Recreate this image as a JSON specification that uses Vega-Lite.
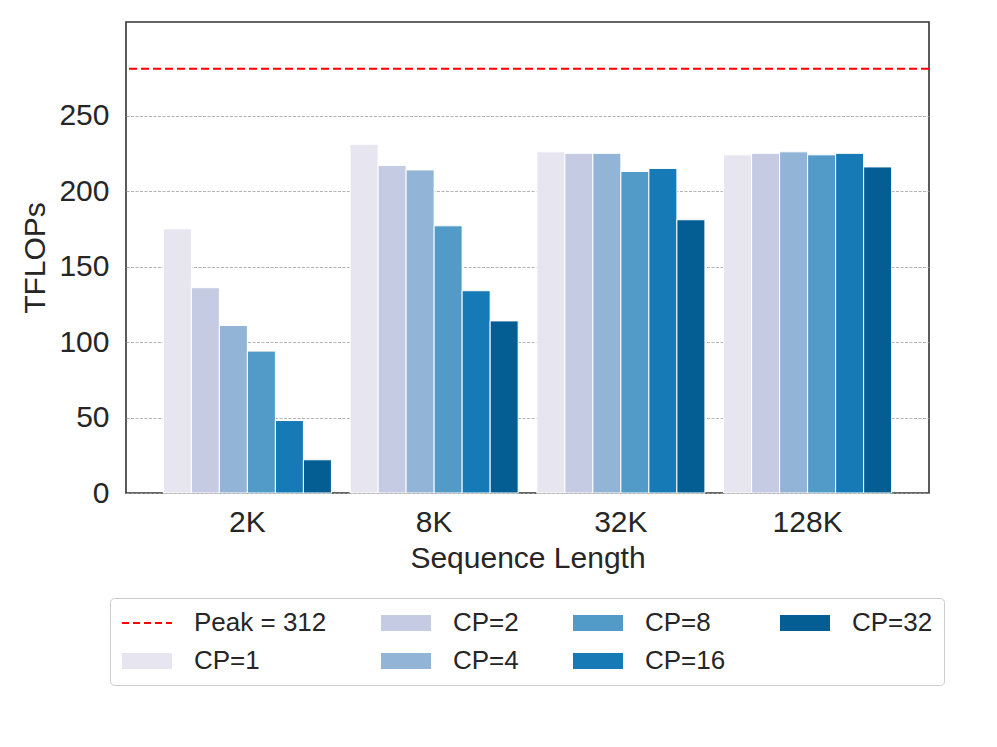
{
  "$schema": "https://vega.github.io/schema/vega-lite/v6.json",
  "width": 803,
  "height": 471,
  "autosize": {"type": "none"},
  "padding": {"left": 126, "top": 22, "right": 68, "bottom": 254},
  "background": "white",
  "config": {
    "font": "Liberation Sans",
    "view": {"stroke": "#333333", "strokeWidth": 1.6},
    "axis": {"labelColor": "#262626", "titleColor": "#262626", "labelFont": "Liberation Sans", "titleFont": "Liberation Sans"},
    "legend": {
      "orient": "none",
      "legendX": -16,
      "legendY": 576,
      "columns": 4,
      "columnPadding": 50,
      "rowPadding": 11,
      "padding": 11,
      "strokeColor": "#cccccc",
      "fillColor": "white",
      "cornerRadius": 4,
      "labelFontSize": 26,
      "labelColor": "#262626",
      "labelFont": "Liberation Sans",
      "labelOffset": 45,
      "symbolSize": 676,
      "symbolStrokeWidth": 2,
      "symbolOpacity": 1,
      "symbolType": "M-1,-0.615H2.846V0.615H-1Z"
    }
  },
  "datasets": {
    "bars": [
      {"seq": "2K", "cp": "CP=1", "tflops": 175},
      {"seq": "2K", "cp": "CP=2", "tflops": 136},
      {"seq": "2K", "cp": "CP=4", "tflops": 111},
      {"seq": "2K", "cp": "CP=8", "tflops": 94},
      {"seq": "2K", "cp": "CP=16", "tflops": 48},
      {"seq": "2K", "cp": "CP=32", "tflops": 22},
      {"seq": "8K", "cp": "CP=1", "tflops": 231},
      {"seq": "8K", "cp": "CP=2", "tflops": 217},
      {"seq": "8K", "cp": "CP=4", "tflops": 214},
      {"seq": "8K", "cp": "CP=8", "tflops": 177},
      {"seq": "8K", "cp": "CP=16", "tflops": 134},
      {"seq": "8K", "cp": "CP=32", "tflops": 114},
      {"seq": "32K", "cp": "CP=1", "tflops": 226},
      {"seq": "32K", "cp": "CP=2", "tflops": 225},
      {"seq": "32K", "cp": "CP=4", "tflops": 225},
      {"seq": "32K", "cp": "CP=8", "tflops": 213},
      {"seq": "32K", "cp": "CP=16", "tflops": 215},
      {"seq": "32K", "cp": "CP=32", "tflops": 181},
      {"seq": "128K", "cp": "CP=1", "tflops": 224},
      {"seq": "128K", "cp": "CP=2", "tflops": 225},
      {"seq": "128K", "cp": "CP=4", "tflops": 226},
      {"seq": "128K", "cp": "CP=8", "tflops": 224},
      {"seq": "128K", "cp": "CP=16", "tflops": 225},
      {"seq": "128K", "cp": "CP=32", "tflops": 216}
    ],
    "peak": [
      {"label": "Peak = 312", "tflops": 281}
    ]
  },
  "encoding": {
    "x": {
      "field": "seq", "type": "nominal",
      "sort": ["2K", "8K", "32K", "128K"],
      "scale": {"paddingInner": 0.1, "paddingOuter": 0.2},
      "axis": {"labelAngle": 0, "labelFontSize": 30, "ticks": false, "tickSize": 0, "domain": false, "labelPadding": 14, "title": "Sequence Length", "titleFontSize": 30, "titleFontWeight": "normal", "titlePadding": 6}
    },
    "xOffset": {
      "field": "cp", "type": "nominal",
      "sort": ["CP=1", "CP=2", "CP=4", "CP=8", "CP=16", "CP=32"],
      "scale": {"paddingInner": 0, "paddingOuter": 0}
    },
    "y": {
      "field": "tflops", "type": "quantitative",
      "scale": {"domain": [0, 312], "nice": false, "zero": true},
      "axis": {"values": [0, 50, 100, 150, 200, 250], "labelFontSize": 30, "ticks": false, "tickSize": 0, "domain": false, "labelPadding": 17, "grid": true, "gridDash": [3, 1.5], "gridColor": "#a0a0a0", "gridWidth": 0.8, "title": "TFLOPs", "titleFontSize": 30, "titleFontWeight": "normal", "titlePadding": 8}
    }
  },
  "layer": [
    {
      "data": {"name": "bars"},
      "mark": {"type": "bar", "stroke": "white", "strokeWidth": 1},
      "encoding": {
        "color": {
          "field": "cp", "type": "nominal",
          "scale": {
            "domain": ["Peak = 312", "CP=1", "CP=2", "CP=4", "CP=8", "CP=16", "CP=32"],
            "range": ["#ffffff", "#e7e5f0", "#c6cbe4", "#92b5d7", "#529bc8", "#157ab5", "#045e94"]
          },
          "legend": {"title": null}
        }
      }
    },
    {
      "data": {"name": "bars"},
      "mark": {"type": "point", "filled": true, "size": 0},
      "encoding": {
        "color": {"field": "cp", "type": "nominal", "legend": {"title": null}},
        "shape": {
          "field": "cp", "type": "nominal",
          "scale": {
            "domain": ["Peak = 312", "CP=1", "CP=2", "CP=4", "CP=8", "CP=16", "CP=32"],
            "range": ["M-1,0H2.846", "M-1,-0.615H2.846V0.615H-1Z", "M-1,-0.615H2.846V0.615H-1Z", "M-1,-0.615H2.846V0.615H-1Z", "M-1,-0.615H2.846V0.615H-1Z", "M-1,-0.615H2.846V0.615H-1Z", "M-1,-0.615H2.846V0.615H-1Z"]
          },
          "legend": {"title": null}
        },
        "stroke": {
          "field": "cp", "type": "nominal",
          "scale": {
            "domain": ["Peak = 312", "CP=1", "CP=2", "CP=4", "CP=8", "CP=16", "CP=32"],
            "range": ["#ff0000", "transparent", "transparent", "transparent", "transparent", "transparent", "transparent"]
          },
          "legend": {"title": null}
        },
        "strokeDash": {
          "field": "cp", "type": "nominal",
          "scale": {
            "domain": ["Peak = 312", "CP=1", "CP=2", "CP=4", "CP=8", "CP=16", "CP=32"],
            "range": [[7, 4], [1, 0], [1, 0], [1, 0], [1, 0], [1, 0], [1, 0]]
          },
          "legend": {"title": null}
        }
      }
    },
    {
      "data": {"name": "peak"},
      "mark": {"type": "rule", "strokeDash": [8, 4], "strokeWidth": 2, "color": "#ff0000"},
      "encoding": {
        "x": null,
        "xOffset": null,
        "y": {"field": "tflops", "type": "quantitative"}
      }
    }
  ]
}
